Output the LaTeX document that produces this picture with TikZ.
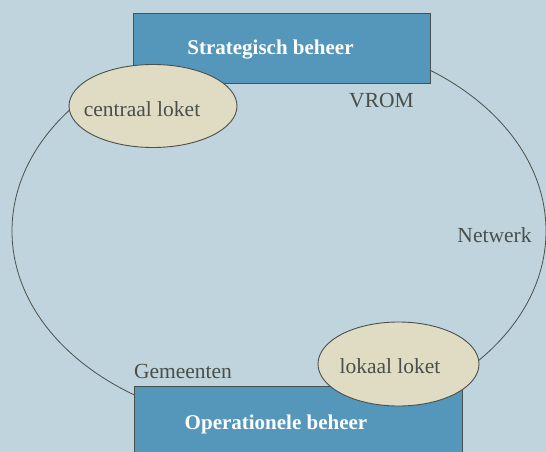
\documentclass[tikz,border=0pt]{standalone}
\usepackage{fontspec}
\setmainfont{Liberation Serif}
\usetikzlibrary{shapes.geometric}
\definecolor{bgc}{HTML}{BFD4DC}
\definecolor{boxc}{HTML}{5497BB}
\definecolor{linec}{HTML}{4A504C}
\definecolor{ellc}{HTML}{DFDCC3}
\definecolor{txtc}{HTML}{4A4F4A}
\tikzset{
  beheerbox/.style={draw=linec, line width=0.9pt, fill=boxc, inner sep=0pt},
  beheertext/.style={text=white, font=\fontsize{21}{24}\selectfont\bfseries, inner sep=0pt},
  loketell/.style={ellipse, draw=linec, line width=0.9pt, fill=ellc, inner sep=0pt},
  ring/.style={ellipse, draw=linec, line width=0.8pt, inner sep=0pt},
  lbl/.style={text=txtc, font=\fontsize{21.5}{24}\selectfont, inner sep=0pt}
}
\begin{document}
\begin{tikzpicture}[x=1pt,y=-1pt]
\useasboundingbox (0,0) rectangle (546,452);
\fill[bgc] (0,0) rectangle (546,452);
\clip (0,0) rectangle (546,452);
\node[ring, minimum width=534pt, minimum height=390pt] (ring) at (279,231) {};
\node[beheerbox, minimum width=297pt, minimum height=70pt] (strat) at (281.5,48) {};
\node[beheertext] (strattxt) at (270.5,50) {Strategisch beheer};
\node[beheerbox, minimum width=328pt, minimum height=80pt] (oper) at (298,426) {};
\node[beheertext] (opertxt) at (276,424) {Operationele beheer};
\node[loketell, minimum width=168pt, minimum height=83pt] (centraal) at (153,106) {};
\node[lbl] (centraaltxt) at (142,109) {centraal loket};
\node[loketell, minimum width=161pt, minimum height=84pt] (lokaal) at (398.5,364) {};
\node[lbl] (lokaaltxt) at (390,366) {lokaal loket};
\node[lbl] (vrom) at (381.5,101) {VROM};
\node[lbl] (netwerk) at (494.5,235) {Netwerk};
\node[lbl] (gemeenten) at (183,371) {Gemeenten};
\end{tikzpicture}
\end{document}
